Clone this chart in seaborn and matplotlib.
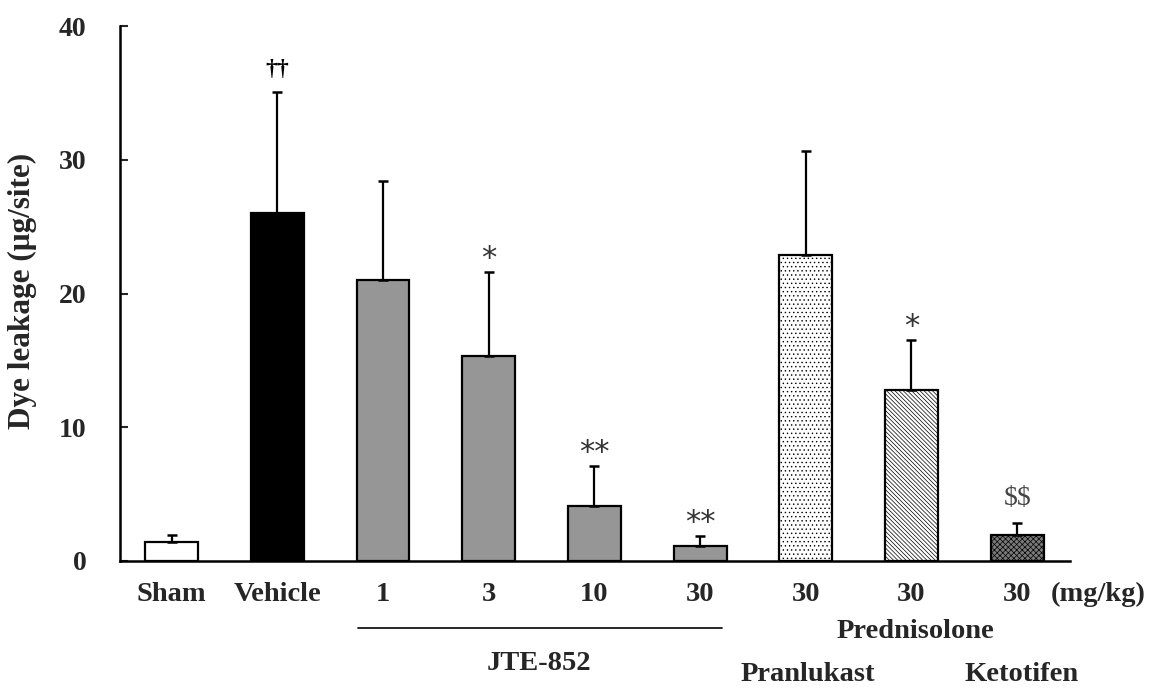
import matplotlib
matplotlib.use("Agg")
import matplotlib.pyplot as plt
import seaborn as sns
import pandas as pd
import numpy as np

# ---- data ----
groups = ["Sham", "Vehicle", "JTE-852 1", "JTE-852 3", "JTE-852 10", "JTE-852 30",
          "Pranlukast 30", "Prednisolone 30", "Ketotifen 30"]
tick_labels = ["Sham", "Vehicle", "1", "3", "10", "30", "30", "30", "30"]
means = [1.4, 26.0, 21.0, 15.3, 4.1, 1.15, 22.9, 12.8, 1.95]
sems = [0.55, 9.1, 7.4, 6.3, 3.0, 0.7, 7.8, 3.7, 0.9]
marks = ["", "\u2020\u2020", "", "*", "**", "**", "", "*", "$$"]
bar_colors = ["white", "black", "#969696", "#969696", "#969696", "#969696",
              "white", "white", "#7a7a7a"]
hatches = ["", "", "", "", "", "", "....", "\\\\\\\\\\\\\\\\", "xxxxxx"]

sns.set_theme(style="white")
plt.rcParams["font.family"] = ["Liberation Serif", "DejaVu Serif"]
plt.rcParams["font.weight"] = "bold"
plt.rcParams["hatch.linewidth"] = 0.5
plt.rcParams["text.parse_math"] = False

fig = plt.figure(figsize=(11.53, 6.9), dpi=100)
ax = fig.add_axes([0.104, 0.187, 0.824, 0.775])

df = pd.DataFrame({"group": groups, "mean": means})
sns.barplot(data=df, x="group", y="mean", hue="group", palette=bar_colors,
            width=0.5, edgecolor="black", linewidth=1.6, legend=False, ax=ax,
            dodge=False)
for p, h in zip(ax.patches, hatches):
    if h:
        p.set_hatch(h)

xs = np.arange(len(groups))
ax.errorbar(xs, means, yerr=[np.zeros(len(sems)), sems], fmt="none",
            ecolor="black", elinewidth=1.6, capsize=3.8, capthick=1.8, zorder=5)

for x, m, s, t in zip(xs, means, sems, marks):
    if not t:
        continue
    top = m + s
    if t.startswith("\u2020"):
        ax.text(x, top + 1.25, t, ha="center", va="baseline", fontsize=17,
                color="black", fontweight="bold", parse_math=False)
    elif t.startswith("*"):
        ax.text(x, top + 0.4, t, ha="center", va="baseline", fontsize=22,
                color="#333333", fontweight="normal", parse_math=False,
                family=["DejaVu Sans"])
    else:
        ax.text(x, top + 1.3, t, ha="center", va="baseline", fontsize=20,
                color="#444444", fontweight="normal", parse_math=False)

ax.set_xlim(-0.49, 8.5)
ax.set_ylim(0, 40)
ax.set_yticks([0, 10, 20, 30, 40])
ax.tick_params(axis="y", which="both", left=True, direction="in", length=6,
               width=1.5, labelsize=20, pad=24)
ax.tick_params(axis="x", bottom=False, labelsize=20.5, pad=9)
ax.set_xticks(xs)
ax.set_xticklabels(tick_labels, fontweight="bold")
for lab in ax.get_yticklabels():
    lab.set_fontweight("bold")
ax.set_xlabel("")
ax.set_ylabel("Dye leakage (\u03bcg/site)", fontsize=22.5, fontweight="bold")
ax.yaxis.set_label_coords(-0.087, 0.505)
for sp in ["top", "right"]:
    ax.spines[sp].set_visible(False)
for sp in ["left", "bottom"]:
    ax.spines[sp].set_color("black")
    ax.spines[sp].set_linewidth(1.8)

# group annotations below axis
ax.text(8.77, -2.5, "(mg/kg)", ha="center", va="center", fontsize=20.5,
        fontweight="bold", clip_on=False)
ax.plot([1.76, 5.21], [-5.0, -5.0], color="black", lw=1.2, clip_on=False)
ax.text(3.48, -7.7, "JTE-852", ha="center", va="center", fontsize=20.5,
        fontweight="bold", clip_on=False)
ax.text(7.04, -5.3, "Prednisolone", ha="center", va="center", fontsize=20.5,
        fontweight="bold", clip_on=False)
ax.text(6.02, -8.5, "Pranlukast", ha="center", va="center", fontsize=20.5,
        fontweight="bold", clip_on=False)
ax.text(8.04, -8.5, "Ketotifen", ha="center", va="center", fontsize=20.5,
        fontweight="bold", clip_on=False)

fig.savefig("out.png", dpi=100, facecolor="white")
